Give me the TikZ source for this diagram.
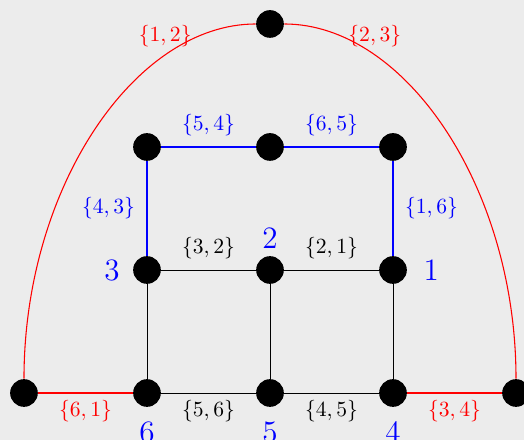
\documentclass[tikz,border=0pt]{standalone}
\usepackage{tikz}
\usetikzlibrary{positioning}

\definecolor{bggray}{RGB}{236,236,236}

\begin{document}
\begin{tikzpicture}[
  x=2cm, y=2cm,
  vertex/.style={circle, fill=black, inner sep=0pt, minimum size=4.5mm},
  num/.style={text=blue, font=\Large},
  link/.style={draw=black, line width=0.4pt},
  bluelink/.style={draw=blue, line width=0.5pt},
  redlink/.style={draw=red, line width=0.5pt},
  elab/.style={font=\normalsize}
]
\fill[bggray] (-2.195,-0.382) rectangle (2.065,3.195);
\useasboundingbox (-2.195,-0.382) rectangle (2.065,3.195);
% vertices
\node[vertex] (apex) at (0,3) {};
\node[vertex] (ul) at (-1,2) {};
\node[vertex] (um) at (0,2) {};
\node[vertex] (ur) at (1,2) {};
\node[vertex, label={[num, label distance=2.5pt]left:3}] (v3) at (-1,1) {};
\node[vertex, label={[num]above:2}] (v2) at (0,1) {};
\node[vertex, label={[num, label distance=4pt]right:1}] (v1) at (1,1) {};
\node[vertex, label={[num, label distance=3pt]below:6}] (v6) at (-1,0) {};
\node[vertex, label={[num, label distance=3pt]below:5}] (v5) at (0,0) {};
\node[vertex, label={[num, label distance=3pt]below:4}] (v4) at (1,0) {};
\node[vertex] (lft) at (-2,0) {};
\node[vertex] (rgt) at (2,0) {};
% blue square
\draw[bluelink] (ul) -- node[elab, text=blue, above=1.5pt]{$\{5,4\}$} (um);
\draw[bluelink] (um) -- node[elab, text=blue, above=1.5pt]{$\{6,5\}$} (ur);
\draw[bluelink] (ul) -- node[elab, text=blue, left=2pt]{$\{4,3\}$} (v3);
\draw[bluelink] (ur) -- node[elab, text=blue, right=2pt]{$\{1,6\}$} (v1);
% black grid
\draw[link] (v3) -- node[elab, above=1.5pt]{$\{3,2\}$} (v2);
\draw[link] (v2) -- node[elab, above=1.5pt]{$\{2,1\}$} (v1);
\draw[link] (v3) -- (v6);
\draw[link] (v2) -- (v5);
\draw[link] (v1) -- (v4);
\draw[link] (v6) -- node[elab, below]{$\{5,6\}$} (v5);
\draw[link] (v5) -- node[elab, below]{$\{4,5\}$} (v4);
% red outer edges
\draw[redlink] (lft) -- node[elab, text=red, below]{$\{6,1\}$} (v6);
\draw[redlink] (v4) -- (rgt);
\path (v4) -- node[elab, text=red, below]{$\{3,4\}$} (rgt);
\draw[redlink] (lft) .. controls +(0,1.667) and +(-1.1,0) .. node[elab, text=red, pos=0.74, above]{$\{1,2\}$} (apex);
\draw[redlink] (apex) .. controls +(1.1,0) and +(0,1.667) .. node[elab, text=red, pos=0.26, above]{$\{2,3\}$} (rgt);
\end{tikzpicture}
\end{document}
